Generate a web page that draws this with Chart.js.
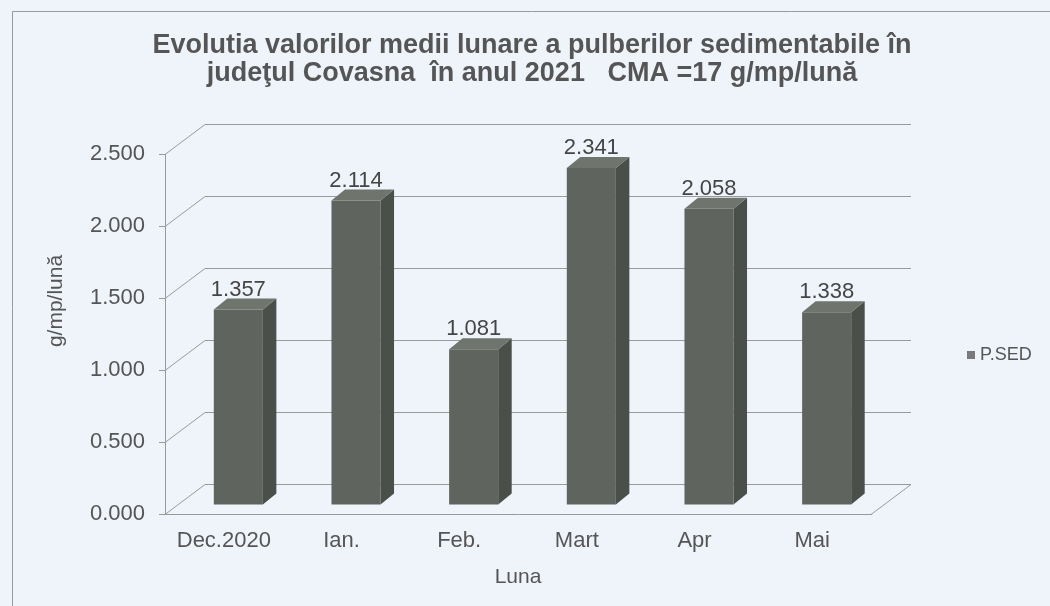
<!DOCTYPE html>
<html>
<head>
<meta charset="utf-8">
<script src="https://cdn.jsdelivr.net/npm/chart.js@4.4.1/dist/chart.umd.min.js"></script>
<style>
  html, body { margin: 0; padding: 0; background: #eff4fb; }
  #wrap { width: 1050px; height: 606px; }
</style>
</head>
<body>
<div id="wrap"><canvas id="c" width="1050" height="606"></canvas></div>
<script>
// ---- data ----
const categories = ['Dec.2020', 'Ian.', 'Feb.', 'Mart', 'Apr', 'Mai'];
const pSed = [1.357, 2.114, 1.081, 2.341, 2.058, 1.338];
const seriesName = 'P.SED';
const yTickValues = [0, 0.5, 1.0, 1.5, 2.0, 2.5];
const titleLines = [
  'Evolutia valorilor medii lunare a pulberilor sedimentabile în',
  'judeţul Covasna  în anul 2021   CMA =17 g/mp/lună'
];
const yTitle = 'g/mp/lună';
const xTitle = 'Luna';

// ---- style ----
const FONT = '"Liberation Sans", Arial, sans-serif';
const TEXT = '#555555';
const LINE = '#9a9a9a';
const WALL = { dx: 40, dy: -30 };
const BAR_SHIFT = { dx: 14.5, dy: -9 };
const BAR_DEPTH = { dx: 13.5, dy: -11 };
const FRONT = '#5f645e', SIDE = '#4b4f4a', TOP = '#6f746d';

const threeD = {
  id: 'threeD',
  beforeDraw(chart) {
    const ctx = chart.ctx;
    ctx.save();
    ctx.fillStyle = '#eff4fb';
    ctx.fillRect(0, 0, chart.width, chart.height);
    ctx.strokeStyle = LINE;
    ctx.lineWidth = 1;
    ctx.beginPath();
    ctx.moveTo(12.5, chart.height);
    ctx.lineTo(12.5, 11.5);
    ctx.lineTo(chart.width, 11.5);
    ctx.stroke();
    ctx.restore();
  },
  beforeDatasetsDraw(chart) {
    const { ctx, chartArea: a, scales: { y } } = chart;
    ctx.save();
    ctx.strokeStyle = LINE;
    ctx.lineWidth = 1;
    ctx.beginPath();
    y.ticks.forEach(t => {
      const py = Math.round(y.getPixelForValue(t.value)) + 0.5;
      ctx.moveTo(a.left, py);
      ctx.lineTo(a.left + WALL.dx, py + WALL.dy);
      ctx.lineTo(a.right + WALL.dx, py + WALL.dy);
    });
    const by = Math.round(y.getPixelForValue(0)) + 0.5;
    ctx.moveTo(a.right, by);
    ctx.lineTo(a.right + WALL.dx, by + WALL.dy);
    ctx.stroke();
    ctx.restore();
    ctx.save();
    ctx.translate(BAR_SHIFT.dx, BAR_SHIFT.dy);
  },
  afterDatasetsDraw(chart) {
    const ctx = chart.ctx;
    ctx.restore();
    const meta = chart.getDatasetMeta(0);
    const values = chart.data.datasets[0].data;
    ctx.save();
    meta.data.forEach((bar, i) => {
      const p = bar.getProps(['x', 'y', 'base', 'width'], true);
      const l = p.x - p.width / 2 + BAR_SHIFT.dx;
      const r = p.x + p.width / 2 + BAR_SHIFT.dx;
      const t = p.y + BAR_SHIFT.dy;
      const b = p.base + BAR_SHIFT.dy;
      const dx = BAR_DEPTH.dx, dy = BAR_DEPTH.dy;
      ctx.fillStyle = SIDE;
      ctx.beginPath();
      ctx.moveTo(r, t); ctx.lineTo(r + dx, t + dy); ctx.lineTo(r + dx, b + dy); ctx.lineTo(r, b);
      ctx.closePath(); ctx.fill();
      ctx.fillStyle = TOP;
      ctx.beginPath();
      ctx.moveTo(l, t); ctx.lineTo(l + dx, t + dy); ctx.lineTo(r + dx, t + dy); ctx.lineTo(r, t);
      ctx.closePath(); ctx.fill();
      ctx.fillStyle = '#454545';
      ctx.font = '22px ' + FONT;
      ctx.textAlign = 'center';
      ctx.textBaseline = 'alphabetic';
      ctx.fillText(values[i].toFixed(3), (l + r) / 2, t + dy - 3);
    });
    ctx.restore();
  },
  afterDraw(chart) {
    const ctx = chart.ctx;
    ctx.save();
    // y axis title
    ctx.translate(56, 301);
    ctx.rotate(-Math.PI / 2);
    ctx.fillStyle = TEXT;
    ctx.font = '21px ' + FONT;
    ctx.textAlign = 'center';
    ctx.textBaseline = 'middle';
    ctx.fillText(yTitle, 0, 0);
    ctx.restore();
    // legend
    ctx.save();
    ctx.fillStyle = '#7a7a7a';
    ctx.fillRect(967, 351, 8, 8);
    ctx.fillStyle = TEXT;
    ctx.font = '18px ' + FONT;
    ctx.textAlign = 'left';
    ctx.textBaseline = 'middle';
    ctx.fillText(chart.data.datasets[0].label, 980, 355);
    ctx.restore();
  }
};

new Chart(document.getElementById('c'), {
  type: 'bar',
  data: {
    labels: categories,
    datasets: [{
      label: seriesName,
      data: pSed,
      backgroundColor: FRONT,
      borderWidth: 0,
      barPercentage: 0.417,
      categoryPercentage: 1.0,
      clip: false
    }]
  },
  options: {
    responsive: false,
    animation: false,
    devicePixelRatio: 1,
    layout: { padding: { left: 14, right: 0, top: 0, bottom: 0 } },
    plugins: {
      legend: { display: false },
      tooltip: { enabled: false },
      title: {
        display: true,
        text: titleLines,
        color: TEXT,
        font: { family: FONT, size: 27, weight: 'bold', lineHeight: 28 / 27 },
        padding: { top: 32, bottom: 66 }
      }
    },
    scales: {
      x: {
        grid: { display: false, drawTicks: false },
        border: { display: true, color: LINE },
        ticks: { color: TEXT, font: { family: FONT, size: 22 }, padding: 14, maxRotation: 0 },
        title: { display: true, text: xTitle, color: TEXT, font: { family: FONT, size: 21 }, padding: { top: 0, bottom: 16 } },
        afterFit(s) { s.height = 92; }
      },
      y: {
        min: 0,
        max: 2.5,
        afterBuildTicks(s) { s.ticks = yTickValues.map(v => ({ value: v })); },
        grid: { display: true, drawOnChartArea: false, drawTicks: true, tickLength: 6, color: LINE },
        border: { display: true, color: LINE },
        ticks: { color: TEXT, font: { family: FONT, size: 22 }, padding: 14, callback: v => Number(v).toFixed(3) },
        afterFit(s) { s.width = 151; }
      },
      y2: {
        position: 'right',
        display: true,
        grid: { display: false },
        border: { display: false },
        ticks: { display: false },
        afterFit(s) { s.width = 179; }
      }
    }
  },
  plugins: [threeD]
});
</script>
</body>
</html>
